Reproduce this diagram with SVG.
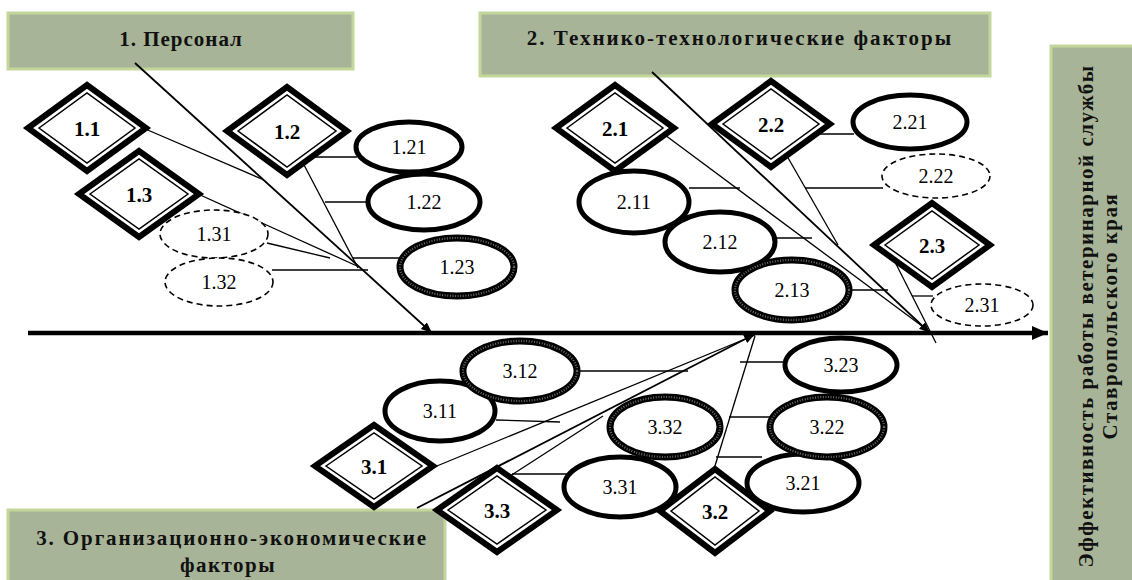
<svg xmlns="http://www.w3.org/2000/svg" width="1132" height="580" viewBox="0 0 1132 580">
<defs>
<marker id="ah" viewBox="0 0 10 8" refX="10" refY="4" markerUnits="userSpaceOnUse" markerWidth="11" markerHeight="9" orient="auto"><path d="M0,0 L10,4 L0,8 z" fill="#000"/></marker>
<marker id="ahBig" viewBox="0 0 16 14" refX="16" refY="7" markerUnits="userSpaceOnUse" markerWidth="16" markerHeight="14" orient="auto"><path d="M0,0 L16,7 L0,14 z" fill="#000"/></marker>
</defs>
<style>
.box{fill:#a8b497;stroke:#c4d79b;stroke-width:3}
.ht{font-family:"Liberation Serif","Times New Roman",serif;font-weight:bold;font-size:21px;fill:#111;text-anchor:middle}
.dout{fill:#fff;stroke:#000;stroke-width:6;stroke-linejoin:miter}
.din{fill:none;stroke:#000;stroke-width:1.5}
.dl{font-family:"Liberation Serif","Times New Roman",serif;font-weight:bold;font-size:21px;fill:#000;text-anchor:middle}
.es{fill:#fff;stroke:#000;stroke-width:5}
.ed{fill:#fff;stroke:#000;stroke-width:1.6;stroke-dasharray:6 4}
.eh{fill:#fff;stroke:#000;stroke-width:7}
.eh2{fill:none;stroke:#6a6a6a;stroke-width:2.2;stroke-dasharray:1 1.6}
.el{font-family:"Liberation Serif","Times New Roman",serif;font-size:20px;fill:#000;text-anchor:middle}
.bone{stroke:#000;stroke-width:1.8;fill:none}
.sub{stroke:#000;stroke-width:1.3;fill:none}
</style>

<g id="boxes">
<g id="box1"><rect class="box" x="8" y="13" width="345" height="56"/><text class="ht" x="181" y="46" letter-spacing="1">1. Персонал</text></g>
<g id="box2"><rect class="box" x="480" y="13" width="510" height="63"/><text class="ht" x="740" y="45" letter-spacing="2">2. Технико-технологические факторы</text></g>
<g id="box3"><rect class="box" x="8" y="510" width="437" height="72"/><text class="ht" x="232" y="545" letter-spacing="1.9">3. Организационно-экономические</text><text class="ht" x="228" y="572" letter-spacing="1.5">факторы</text></g>
<g id="result"><rect class="box" x="1051" y="46" width="83" height="536"/>
<text class="ht" transform="translate(1093,316) rotate(-90)" letter-spacing="1.5">Эффективность работы ветеринарной службы</text>
<text class="ht" transform="translate(1117,316) rotate(-90)" letter-spacing="1.5">Ставропольского края</text></g>
</g>

<g id="connectors">
<line x1="28" y1="333" x2="1048" y2="333" stroke="#000" stroke-width="4.5" marker-end="url(#ahBig)"/>
<line class="bone" x1="135" y1="63" x2="432" y2="333" marker-end="url(#ah)"/>
<line class="bone" x1="652" y1="72" x2="930" y2="333" marker-end="url(#ah)"/>
<line class="bone" x1="417" y1="508" x2="755" y2="334" marker-end="url(#ah)"/>
<line class="sub" x1="143" y1="128" x2="264" y2="180"/>
<line class="sub" x1="198" y1="194" x2="357" y2="266"/>
<line class="sub" x1="267" y1="243" x2="330" y2="258"/>
<line class="sub" x1="272" y1="270" x2="368" y2="270"/>
<line class="sub" x1="303" y1="163" x2="358" y2="268"/>
<line class="sub" x1="310" y1="157" x2="357" y2="157"/>
<line class="sub" x1="325" y1="202" x2="370" y2="202"/>
<line class="sub" x1="353" y1="258" x2="401" y2="258"/>
<line class="sub" x1="665" y1="135" x2="930" y2="332"/>
<line class="sub" x1="689" y1="188" x2="740" y2="188"/>
<line class="sub" x1="775" y1="238" x2="812" y2="238"/>
<line class="sub" x1="850" y1="290" x2="888" y2="290"/>
<line class="sub" x1="787" y1="156" x2="838" y2="245"/>
<line class="sub" x1="815" y1="134" x2="854" y2="134"/>
<line class="sub" x1="805" y1="188" x2="883" y2="188"/>
<line class="sub" x1="893" y1="258" x2="936" y2="343"/>
<line class="sub" x1="912" y1="296" x2="933" y2="296"/>
<line class="sub" x1="432" y1="468" x2="755" y2="335"/>
<line class="sub" x1="496" y1="420" x2="560" y2="422"/>
<line class="sub" x1="577" y1="371" x2="688" y2="371"/>
<line class="sub" x1="510" y1="476" x2="603" y2="416"/>
<line class="sub" x1="512" y1="474" x2="569" y2="474"/>
<line class="sub" x1="714" y1="469" x2="755" y2="336"/>
<line class="sub" x1="716" y1="457" x2="762" y2="457"/>
<line class="sub" x1="729" y1="417" x2="771" y2="417"/>
<line class="sub" x1="740" y1="362" x2="786" y2="362"/>
</g>

<g id="n1.1"><polygon class="dout" points="28,128 87,85 146,128 87,171"/><polygon class="din" points="39,128 87,93 135,128 87,163"/><text class="dl" x="87" y="136">1.1</text></g>
<g id="n1.2"><polygon class="dout" points="227,131 287,87 347,131 287,175"/><polygon class="din" points="238,131 287,95 336,131 287,167"/><text class="dl" x="287" y="139">1.2</text></g>
<g id="n1.3"><polygon class="dout" points="79,194 139,151 199,194 139,237"/><polygon class="din" points="90,194 139,159 188,194 139,229"/><text class="dl" x="139" y="202">1.3</text></g>
<g id="n2.1"><polygon class="dout" points="556,128 615,85 674,128 615,171"/><polygon class="din" points="567,128 615,93 663,128 615,163"/><text class="dl" x="615" y="136">2.1</text></g>
<g id="n2.2"><polygon class="dout" points="712,124 771,81 830,124 771,167"/><polygon class="din" points="723,124 771,89 819,124 771,159"/><text class="dl" x="771" y="132">2.2</text></g>
<g id="n2.3"><polygon class="dout" points="874,245 932,203 990,245 932,287"/><polygon class="din" points="885,245 932,211 979,245 932,279"/><text class="dl" x="932" y="253">2.3</text></g>
<g id="n3.1"><polygon class="dout" points="315,466 374,425 433,466 374,507"/><polygon class="din" points="326,466 374,433 422,466 374,499"/><text class="dl" x="374" y="474">3.1</text></g>
<g id="n3.3"><polygon class="dout" points="437,510 497,468 557,510 497,552"/><polygon class="din" points="448,510 497,476 546,510 497,544"/><text class="dl" x="497" y="518">3.3</text></g>
<g id="n3.2"><polygon class="dout" points="660,511 715,469 770,511 715,553"/><polygon class="din" points="671,511 715,477 759,511 715,545"/><text class="dl" x="715" y="519">3.2</text></g>

<g id="n1.21"><ellipse class="es" cx="409" cy="147" rx="53" ry="25"/><text class="el" x="409" y="154">1.21</text></g>
<g id="n1.22"><ellipse class="es" cx="424" cy="202" rx="56" ry="28"/><text class="el" x="424" y="209">1.22</text></g>
<g id="n1.23"><ellipse class="eh" cx="457" cy="267" rx="57" ry="29"/><ellipse class="eh2" cx="457" cy="267" rx="57" ry="29"/><text class="el" x="457" y="274">1.23</text></g>
<g id="n1.31"><ellipse class="ed" cx="214" cy="234" rx="54" ry="24"/><text class="el" x="214" y="241">1.31</text></g>
<g id="n1.32"><ellipse class="ed" cx="219" cy="282" rx="54" ry="24"/><text class="el" x="219" y="289">1.32</text></g>
<g id="n2.11"><ellipse class="es" cx="634" cy="202" rx="55" ry="31"/><text class="el" x="634" y="209">2.11</text></g>
<g id="n2.12"><ellipse class="es" cx="720" cy="242" rx="55" ry="30"/><text class="el" x="720" y="249">2.12</text></g>
<g id="n2.13"><ellipse class="eh" cx="792" cy="290" rx="57" ry="30"/><ellipse class="eh2" cx="792" cy="290" rx="57" ry="30"/><text class="el" x="792" y="297">2.13</text></g>
<g id="n2.21"><ellipse class="es" cx="910" cy="122" rx="57" ry="27"/><text class="el" x="910" y="129">2.21</text></g>
<g id="n2.22"><ellipse class="ed" cx="936" cy="176" rx="54" ry="22"/><text class="el" x="936" y="183">2.22</text></g>
<g id="n2.31"><ellipse class="ed" cx="982" cy="305" rx="51" ry="21"/><text class="el" x="982" y="312">2.31</text></g>
<g id="n3.11"><ellipse class="es" cx="440" cy="411" rx="55" ry="30"/><text class="el" x="440" y="418">3.11</text></g>
<g id="n3.12"><ellipse class="eh" cx="520" cy="371" rx="57" ry="30"/><ellipse class="eh2" cx="520" cy="371" rx="57" ry="30"/><text class="el" x="520" y="378">3.12</text></g>
<g id="n3.21"><ellipse class="es" cx="803" cy="483" rx="56" ry="29"/><text class="el" x="803" y="490">3.21</text></g>
<g id="n3.22"><ellipse class="eh" cx="827" cy="427" rx="57" ry="30"/><ellipse class="eh2" cx="827" cy="427" rx="57" ry="30"/><text class="el" x="827" y="434">3.22</text></g>
<g id="n3.23"><ellipse class="es" cx="841" cy="365" rx="56" ry="27"/><text class="el" x="841" y="372">3.23</text></g>
<g id="n3.31"><ellipse class="es" cx="620" cy="487" rx="56" ry="30"/><text class="el" x="620" y="494">3.31</text></g>
<g id="n3.32"><ellipse class="eh" cx="665" cy="427" rx="55" ry="30"/><ellipse class="eh2" cx="665" cy="427" rx="55" ry="30"/><text class="el" x="665" y="434">3.32</text></g>
</svg>
